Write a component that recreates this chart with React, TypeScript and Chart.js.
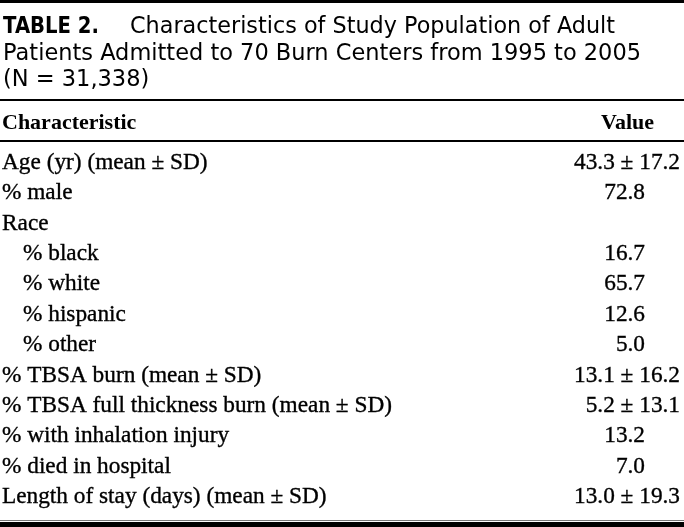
import React, { useEffect, useRef } from "react";
import { Chart, registerables } from "chart.js";

Chart.register(...registerables);

const titleLabel = "TABLE 2.";
const titleLines = [
  "Characteristics of Study Population of Adult",
  "Patients Admitted to 70 Burn Centers from 1995 to 2005",
  "(N = 31,338)",
];
const headerLabels = ["Characteristic", "Value"];
const characteristics = [
  "Age (yr) (mean ± SD)",
  "% male",
  "Race",
  "% black",
  "% white",
  "% hispanic",
  "% other",
  "% TBSA burn (mean ± SD)",
  "% TBSA full thickness burn (mean ± SD)",
  "% with inhalation injury",
  "% died in hospital",
  "Length of stay (days) (mean ± SD)",
];
const levels = [0, 0, 0, 1, 1, 1, 1, 0, 0, 0, 0, 0];
const means: (number | null)[] = [43.3, 72.8, null, 16.7, 65.7, 12.6, 5.0, 13.1, 5.2, 13.2, 7.0, 13.0];
const sds: (number | null)[] = [17.2, null, null, null, null, null, null, 16.2, 13.1, null, null, 19.3];

const W = 684;
const H = 527;

const tablePlugin = {
  id: "tablePlugin",
  afterDraw(chart: any) {
    const ctx = chart.ctx as CanvasRenderingContext2D;
    const y = chart.scales.y;
    const x = chart.scales.x;
    ctx.save();
    ctx.fillStyle = "#000";
    ctx.strokeStyle = "#000";

    // rules
    const rule = (top: number, h: number) => ctx.fillRect(0, top, W, h);
    rule(0, 3);
    rule(99, 2);
    rule(140, 2);
    ctx.fillStyle = "#777";
    rule(520, 1);
    ctx.fillStyle = "#000";
    rule(522, 5);

    // title
    const sans = "'DejaVu Sans', sans-serif";
    ctx.textBaseline = "alphabetic";
    ctx.textAlign = "left";
    ctx.font = `bold 22.5px ${sans}`;
    ctx.fillText(titleLabel, 3, 33, 96);
    ctx.font = `22.5px ${sans}`;
    ctx.fillText(titleLines[0], 130, 33, 485);
    ctx.fillText(titleLines[1], 3, 59.5, 638);
    ctx.fillText(titleLines[2], 3, 86, 150);

    // header
    const serif = "'Liberation Serif', 'Times New Roman', serif";
    ctx.font = `bold 22px ${serif}`;
    ctx.fillText(headerLabels[0], 2, 129);
    ctx.textAlign = "right";
    ctx.fillText(headerLabels[1], 654, 129);

    // rows
    ctx.font = `23.3px ${serif}`;
    ctx.lineWidth = 0.35;
    const draw = (t: string, px: number, py: number) => {
      ctx.fillText(t, px, py);
      ctx.strokeText(t, px, py);
    };
    characteristics.forEach((label, i) => {
      const py = y.getPixelForValue(i);
      ctx.textAlign = "left";
      draw(label, x.getPixelForValue(2 + levels[i] * 21), py);
      const m = means[i];
      if (m === null) return;
      const s = sds[i];
      ctx.textAlign = "right";
      if (s === null) {
        draw(m.toFixed(1), x.getPixelForValue(645), py);
      } else {
        draw(`${m.toFixed(1)} ± ${s.toFixed(1)}`, x.getPixelForValue(680), py);
      }
    });
    ctx.restore();
  },
};

export default function App() {
  const ref = useRef<HTMLCanvasElement>(null);
  useEffect(() => {
    document.body.style.margin = "0";
    document.body.style.background = "#fff";
    const chart = new Chart(ref.current!, {
      type: "scatter",
      data: {
        labels: characteristics,
        datasets: [
          {
            data: characteristics.map((_, i) => ({ x: 0, y: i })),
            pointRadius: 0,
          },
        ],
      },
      options: {
        animation: false,
        responsive: false,
        events: [],
        layout: { padding: { top: 169, bottom: 24, left: 0, right: 0 } },
        plugins: { legend: { display: false }, tooltip: { enabled: false }, title: { display: false } },
        scales: {
          x: { type: "linear", min: 0, max: W, display: false },
          y: { type: "category", labels: characteristics.map((_, i) => String(i)), display: false, offset: false },
        },
      },
      plugins: [tablePlugin],
    });
    return () => chart.destroy();
  }, []);
  return (
    <div style={{ width: W, height: H, background: "#fff" }}>
      <canvas ref={ref} width={W} height={H} style={{ display: "block" }} />
    </div>
  );
}
